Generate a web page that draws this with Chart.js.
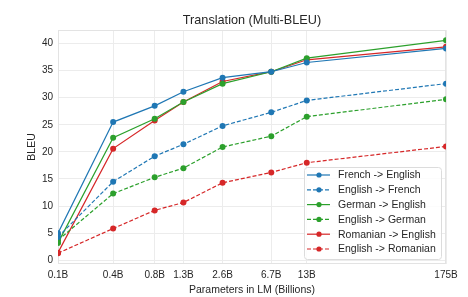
<!DOCTYPE html>
<html>
<head>
<meta charset="utf-8">
<script src="https://cdn.jsdelivr.net/npm/chart.js@4"></script>
<style>
  html, body { margin: 0; padding: 0; background: #fff; }
  #wrap { width: 468px; height: 297px; }
</style>
</head>
<body>
<div id="wrap"><canvas id="chart" width="468" height="297"></canvas></div>
<script>
// model sizes (billions) and the labels shown under them
const sizes = [0.125, 0.35, 0.76, 1.3, 2.7, 6.7, 13, 175];
const sizeLabels = ['0.1B', '0.4B', '0.8B', '1.3B', '2.6B', '6.7B', '13B', '175B'];
const yTicks = [0, 5, 10, 15, 20, 25, 30, 35, 40];

const frEn = [5.0, 25.5, 28.5, 31.1, 33.7, 34.8, 36.5, 39.1];
const enFr = [4.3, 14.5, 19.2, 21.4, 24.8, 27.3, 29.5, 32.6];
const deEn = [3.2, 22.6, 26.1, 29.2, 32.6, 34.8, 37.3, 40.6];
const enDe = [3.7, 12.3, 15.3, 17.0, 20.9, 22.9, 26.5, 29.7];
const roEn = [1.4, 20.6, 25.8, 29.2, 33.0, 34.8, 37.0, 39.4];
const enRo = [1.3, 5.85, 9.2, 10.65, 14.3, 16.2, 18.0, 21.0];

const BLUE = '#1f77b4', GREEN = '#2ca02c', RED = '#d62728';
const FONT = "'Liberation Sans', Arial, sans-serif";
const TXT = '#262626';
const TITLE = 'Translation (Multi-BLEU)';

function series(label, vals, color, dashed) {
  return {
    label: label,
    data: vals.map((v, i) => ({ x: sizes[i], y: v })),
    borderColor: color,
    backgroundColor: color,
    borderWidth: 1.2,
    borderDash: dashed ? [4, 2] : [],
    pointRadius: 3,
    pointHoverRadius: 3,
    pointBorderWidth: 0,
    tension: 0
  };
}

// title centred over the plot area, not the whole canvas
const plotTitle = {
  id: 'plotTitle',
  afterDraw(chart) {
    const a = chart.chartArea, ctx = chart.ctx;
    ctx.save();
    ctx.font = '12.7px ' + FONT;
    ctx.fillStyle = TXT;
    ctx.textAlign = 'center';
    ctx.textBaseline = 'middle';
    ctx.fillText(TITLE, (a.left + a.right) / 2, 20.5);
    ctx.restore();
  }
};

// legend drawn inside the plot, lower right like the original
const insideLegend = {
  id: 'insideLegend',
  afterDatasetsDraw(chart) {
    const ctx = chart.ctx;
    const x0 = 304, y0 = 167, w = 137, h = 92;
    ctx.save();
    ctx.fillStyle = 'rgba(255,255,255,0.85)';
    ctx.strokeStyle = '#dcdcdc';
    ctx.lineWidth = 1;
    ctx.beginPath();
    ctx.roundRect(x0 + 0.5, y0 + 0.5, w, h, 3);
    ctx.fill();
    ctx.stroke();
    ctx.font = '10.5px ' + FONT;
    ctx.textBaseline = 'middle';
    chart.data.datasets.forEach((ds, i) => {
      const y = 175 + i * 14.8;
      ctx.strokeStyle = ds.borderColor;
      ctx.lineWidth = 1.2;
      ctx.setLineDash(ds.borderDash);
      ctx.beginPath();
      ctx.moveTo(307, y);
      ctx.lineTo(330, y);
      ctx.stroke();
      ctx.setLineDash([]);
      ctx.fillStyle = ds.borderColor;
      ctx.beginPath();
      ctx.arc(319, y, 2.6, 0, Math.PI * 2);
      ctx.fill();
      ctx.fillStyle = TXT;
      ctx.fillText(ds.label, 338, y + 0.5);
    });
    ctx.restore();
  }
};

// light frame around the plot (all four spines)
const frame = {
  id: 'frame',
  beforeDatasetsDraw(chart) {
    const a = chart.chartArea, ctx = chart.ctx;
    ctx.save();
    ctx.strokeStyle = '#e3e3e3';
    ctx.lineWidth = 1;
    ctx.strokeRect(a.left + 0.5, a.top + 0.5, a.right - a.left - 1, a.bottom - a.top - 1);
    ctx.restore();
  }
};

new Chart(document.getElementById('chart'), {
  type: 'line',
  data: {
    datasets: [
      series('French -> English', frEn, BLUE, false),
      series('English -> French', enFr, BLUE, true),
      series('German -> English', deEn, GREEN, false),
      series('English -> German', enDe, GREEN, true),
      series('Romanian -> English', roEn, RED, false),
      series('English -> Romanian', enRo, RED, true)
    ]
  },
  options: {
    responsive: false,
    animation: false,
    layout: { padding: { left: 0, right: 22, top: 30, bottom: 0 } },
    plugins: {
      legend: { display: false },
      tooltip: { enabled: false },
      title: { display: false }
    },
    scales: {
      x: {
        type: 'logarithmic',
        min: 0.125,
        max: 175,
        afterBuildTicks(scale) {
          scale.ticks = sizes.map(v => ({ value: v }));
        },
        afterFit(scale) { scale.height = 33; },
        ticks: {
          autoSkip: false,
          maxRotation: 0,
          padding: 5,
          color: TXT,
          font: { family: FONT, size: 10 },
          callback: (v, i) => sizeLabels[i]
        },
        grid: { color: '#ececec', drawTicks: false },
        border: { display: false },
        title: {
          display: true,
          text: 'Parameters in LM (Billions)',
          color: TXT,
          font: { family: FONT, size: 10.5 },
          padding: { top: 0, bottom: 1 }
        }
      },
      y: {
        min: -0.7,
        max: 42.5,
        afterBuildTicks(scale) {
          scale.ticks = yTicks.map(v => ({ value: v }));
        },
        afterFit(scale) { scale.width = 58; },
        ticks: {
          padding: 5,
          color: TXT,
          font: { family: FONT, size: 10 }
        },
        grid: { color: '#ececec', drawTicks: false },
        border: { display: false },
        title: {
          display: true,
          text: 'BLEU',
          color: TXT,
          font: { family: FONT, size: 10.5 },
          padding: { top: 26, bottom: 0 }
        }
      }
    }
  },
  plugins: [frame, insideLegend, plotTitle]
});
</script>
</body>
</html>
